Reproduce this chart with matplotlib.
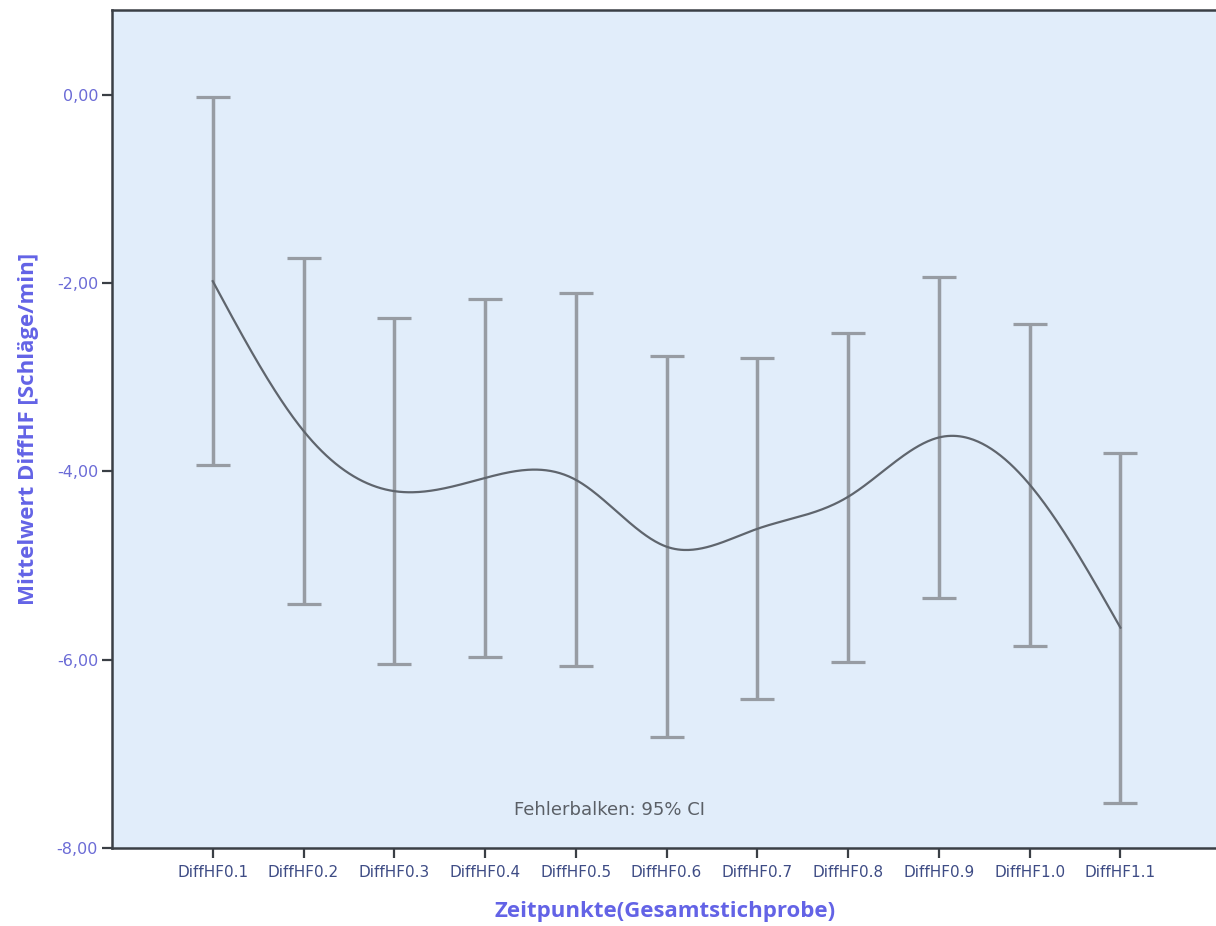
import numpy as np
import matplotlib
matplotlib.use("Agg")
import matplotlib.pyplot as plt

categories = ["DiffHF0.1", "DiffHF0.2", "DiffHF0.3", "DiffHF0.4", "DiffHF0.5",
              "DiffHF0.6", "DiffHF0.7", "DiffHF0.8", "DiffHF0.9", "DiffHF1.0",
              "DiffHF1.1"]
ci_upper = [-0.02, -1.73, -2.37, -2.17, -2.11, -2.78, -2.80, -2.53, -1.94, -2.43, -3.81]
ci_lower = [-3.93, -5.41, -6.05, -5.97, -6.07, -6.82, -6.42, -6.02, -5.35, -5.85, -7.52]
means = [-1.98, -3.57, -4.21, -4.07, -4.09, -4.80, -4.61, -4.27, -3.64, -4.14, -5.66]
y_ticks = [-8, -6, -4, -2, 0]


def natural_cubic_spline(x, y, xs):
    """Evaluate a natural cubic spline through (x, y) at xs."""
    x = np.asarray(x, float)
    y = np.asarray(y, float)
    n = len(x)
    h = np.diff(x)
    A = np.zeros((n, n))
    b = np.zeros(n)
    A[0, 0] = 1.0
    A[-1, -1] = 1.0
    for i in range(1, n - 1):
        A[i, i - 1] = h[i - 1]
        A[i, i] = 2 * (h[i - 1] + h[i])
        A[i, i + 1] = h[i]
        b[i] = 3 * ((y[i + 1] - y[i]) / h[i] - (y[i] - y[i - 1]) / h[i - 1])
    c = np.linalg.solve(A, b)
    bb = (y[1:] - y[:-1]) / h - h * (2 * c[:-1] + c[1:]) / 3
    d = (c[1:] - c[:-1]) / (3 * h)
    idx = np.clip(np.searchsorted(x, xs) - 1, 0, n - 2)
    dx = xs - x[idx]
    return y[idx] + bb[idx] * dx + c[idx] * dx ** 2 + d[idx] * dx ** 3


plt.rcParams["font.family"] = ["Open Sans", "DejaVu Sans"]

fig = plt.figure(figsize=(12.16, 9.26), dpi=100)
ax = fig.add_axes([112 / 1216, 1 - 848 / 926, 1 - 112 / 1216 + 0.002, (848 - 10) / 926])
ax.set_facecolor("#E1EDFA")

pos = np.arange(len(categories))
means_a = np.array(means)
err = [means_a - np.array(ci_lower), np.array(ci_upper) - means_a]
ax.errorbar(pos, means_a, yerr=err, fmt="none", ecolor="#979CA3",
            elinewidth=2.5, capsize=12, capthick=2.3, zorder=2)

xs = np.linspace(pos[0], pos[-1], 600)
ax.plot(xs, natural_cubic_spline(pos, means, xs), color="#5F656D", lw=1.6, zorder=3)

ax.set_xlim(-1.11, 11.08)
ax.set_ylim(-8, 0.9)
ax.set_xticks(pos)
ax.set_xticklabels(categories, fontsize=11, color="#3E4C85", family="DejaVu Sans")
ax.set_yticks(y_ticks)
ax.set_yticklabels([f"{v:.2f}".replace(".", ",") for v in y_ticks],
                   fontsize=11.5, color="#6B6BD6", family="DejaVu Sans")
ax.tick_params(axis="both", direction="out", length=7, width=1.6, color="#3A3F45", pad=3)
ax.tick_params(axis="x", pad=5)

for side in ("left", "top", "bottom"):
    ax.spines[side].set_color("#3A3F45")
    ax.spines[side].set_linewidth(1.8)
ax.spines["right"].set_visible(False)

ax.set_xlabel("Zeitpunkte(Gesamtstichprobe)", fontsize=16, fontweight="bold",
              color="#6363E6", labelpad=15)
ax.set_ylabel("Mittelwert DiffHF [Schläge/min]", fontsize=16, fontweight="bold",
              color="#6363E6", labelpad=13)

ax.text(4.37, -7.6, "Fehlerbalken: 95% CI", ha="center", va="center",
        fontsize=13, color="#5A5F66", family="DejaVu Sans")

fig.savefig("out.png", dpi=100)
